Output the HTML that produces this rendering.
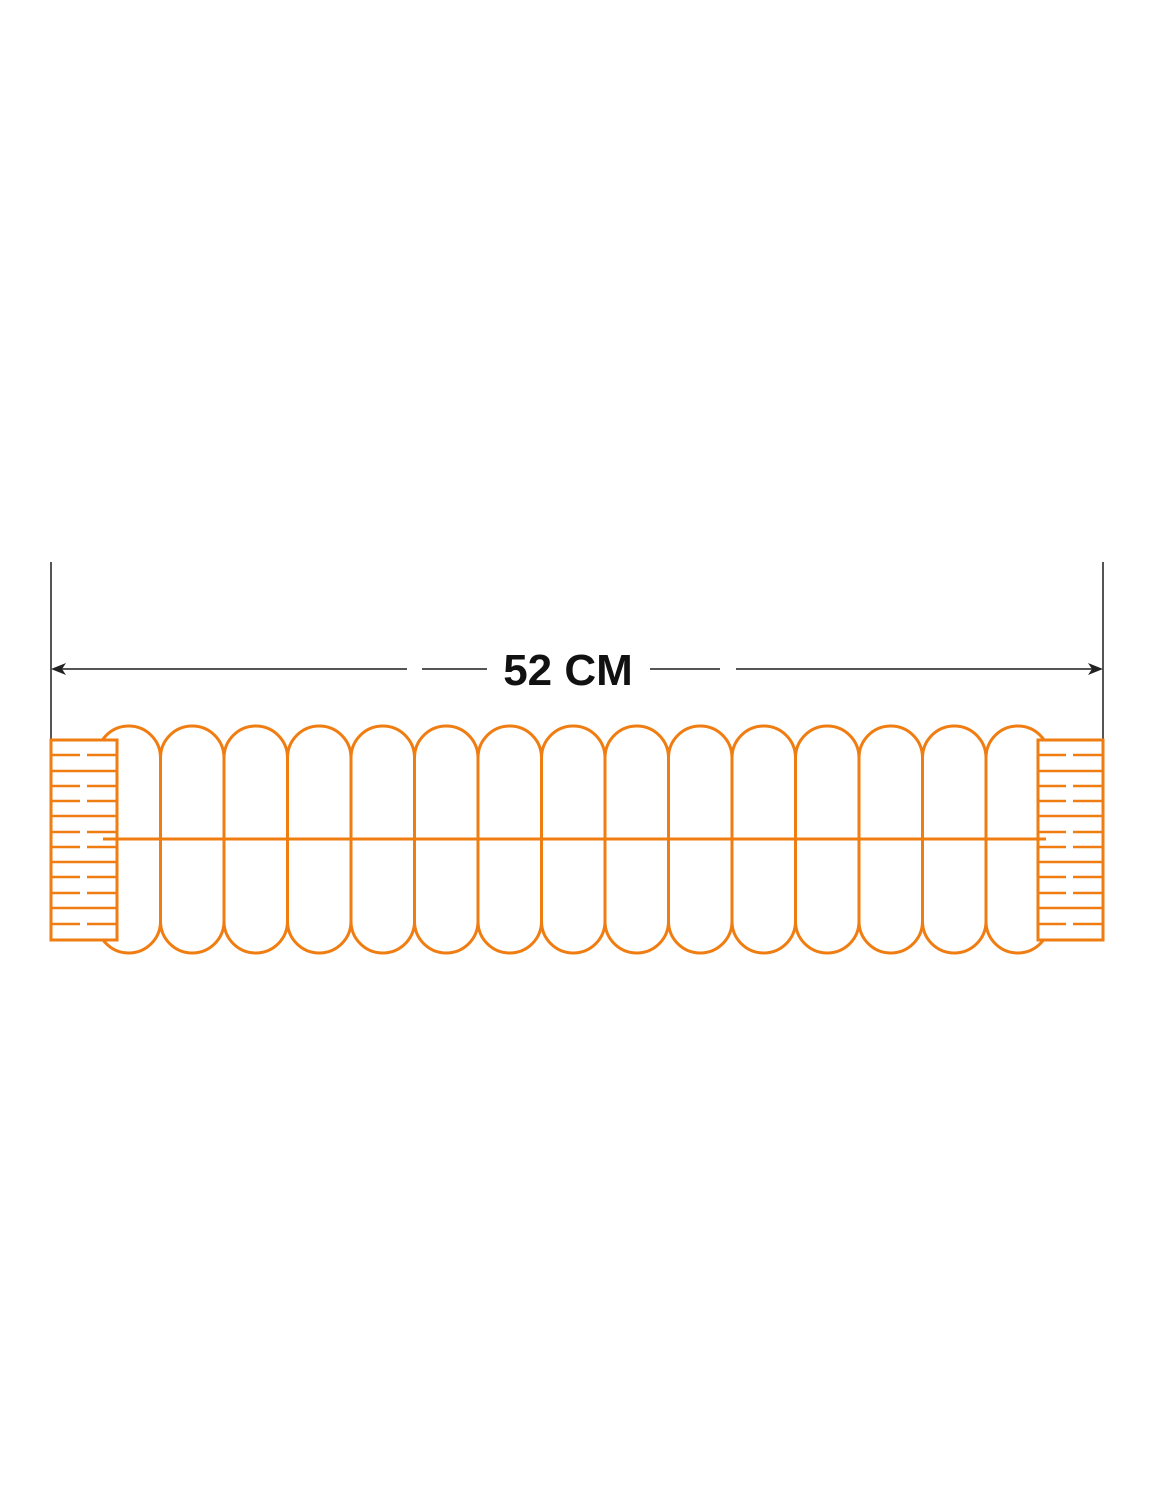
<!DOCTYPE html>
<html><head><meta charset="utf-8"><style>html,body{margin:0;padding:0;background:#fff}</style></head>
<body>
<svg width="1162" height="1500" viewBox="0 0 1162 1500" xmlns="http://www.w3.org/2000/svg">
<g stroke="#555" stroke-width="2">
<line x1="51" y1="562" x2="51" y2="740"/>
<line x1="1103" y1="562" x2="1103" y2="740"/>
<line x1="55" y1="669" x2="407" y2="669"/>
<line x1="422" y1="669" x2="487" y2="669"/>
<line x1="650" y1="669" x2="720" y2="669"/>
<line x1="736" y1="669" x2="1099" y2="669"/>
</g>
<polygon points="51,669 66,663 62,669 66,675" fill="#222"/>
<polygon points="1103,669 1088,663 1092,669 1088,675" fill="#222"/>
<text x="568" y="685" text-anchor="middle" font-family="Liberation Sans, sans-serif" font-weight="bold" font-size="44" fill="#111">52 CM</text>
<g fill="none" stroke="#f07d12" stroke-width="3">
<g id="pills">
<rect x="97" y="726" width="63.5" height="227" rx="31.75"/>
<rect x="160.5" y="726" width="63.5" height="227" rx="31.75"/>
<rect x="224" y="726" width="63.5" height="227" rx="31.75"/>
<rect x="287.5" y="726" width="63.5" height="227" rx="31.75"/>
<rect x="351" y="726" width="63.5" height="227" rx="31.75"/>
<rect x="414.5" y="726" width="63.5" height="227" rx="31.75"/>
<rect x="478" y="726" width="63.5" height="227" rx="31.75"/>
<rect x="541.5" y="726" width="63.5" height="227" rx="31.75"/>
<rect x="605" y="726" width="63.5" height="227" rx="31.75"/>
<rect x="668.5" y="726" width="63.5" height="227" rx="31.75"/>
<rect x="732" y="726" width="63.5" height="227" rx="31.75"/>
<rect x="795.5" y="726" width="63.5" height="227" rx="31.75"/>
<rect x="859" y="726" width="63.5" height="227" rx="31.75"/>
<rect x="922.5" y="726" width="63.5" height="227" rx="31.75"/>
<rect x="986" y="726" width="63.5" height="227" rx="31.75"/>
</g>
<line x1="103" y1="839" x2="1046" y2="839"/>
<rect x="51" y="740" width="66" height="200" fill="#fff"/>
<rect x="1038" y="740" width="65" height="200" fill="#fff"/>
<line x1="103" y1="839" x2="117" y2="839"/>
<line x1="1038" y1="839" x2="1046" y2="839"/>
<g stroke-width="2.5">
<path d="M51 771H117M51 816H117M51 862H117M51 908H117 M1038 771H1103M1038 816H1103M1038 862H1103M1038 908H1103"/>
<path d="M51 755H80M87 755H117 M51 786H80M87 786H117 M51 801H80M87 801H117 M51 832H80M87 832H117 M51 847H80M87 847H117 M51 877H80M87 877H117 M51 893H80M87 893H117 M51 924H80M87 924H117"/>
<path d="M1038 755H1066M1073 755H1103 M1038 786H1066M1073 786H1103 M1038 801H1066M1073 801H1103 M1038 832H1066M1073 832H1103 M1038 847H1066M1073 847H1103 M1038 877H1066M1073 877H1103 M1038 893H1066M1073 893H1103 M1038 924H1066M1073 924H1103"/>
</g>
</g>
</svg>
</body></html>
